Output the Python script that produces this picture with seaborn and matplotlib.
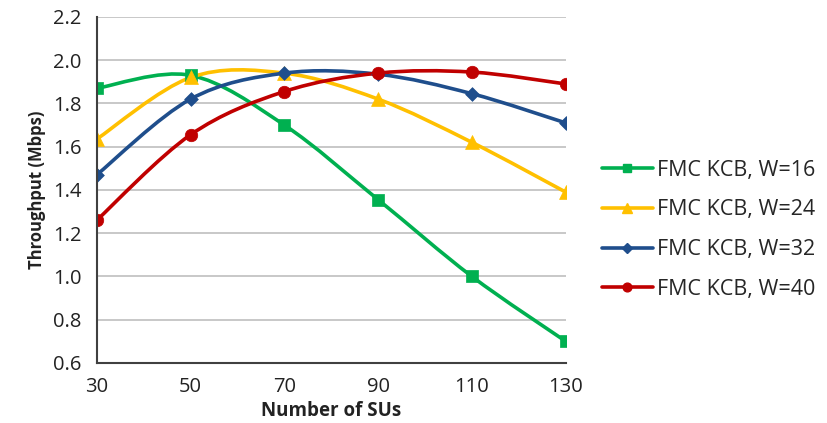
import numpy as np
import pandas as pd
import matplotlib
matplotlib.use("Agg")
import matplotlib.pyplot as plt
import seaborn as sns
from matplotlib.path import Path
from matplotlib.patches import PathPatch
from matplotlib.lines import Line2D

# data
num_sus = [30, 50, 70, 90, 110, 130]
w16 = [1.87, 1.93, 1.70, 1.355, 1.00, 0.70]
w24 = [1.635, 1.92, 1.94, 1.82, 1.62, 1.39]
w32 = [1.47, 1.82, 1.94, 1.935, 1.845, 1.71]
w40 = [1.26, 1.655, 1.855, 1.94, 1.945, 1.89]
labels = ["FMC KCB, W=16", "FMC KCB, W=24", "FMC KCB, W=32", "FMC KCB, W=40"]
colors = ["#00B050", "#FFC000", "#1F4E8C", "#C00000"]
markers = ["s", "^", "D", "o"]
msizes = [9, 10, 7, 9]

rows = []
for lab, vals in zip(labels, [w16, w24, w32, w40]):
    for x, y in zip(num_sus, vals):
        rows.append({"SUs": x, "Throughput": y, "series": lab})
df = pd.DataFrame(rows)

sns.set_style("white")
plt.rcParams['font.family'] = ['Open Sans', 'DejaVu Sans']

fig = plt.figure(figsize=(8.27, 4.23), dpi=100)
ax = fig.add_axes([0.117, 0.142, 0.567, 0.818])


def smooth_path(xs, ys):
    # Excel-style smoothed line: cubic Bezier segments through the points
    pts = np.column_stack([xs, ys]).astype(float)
    verts = [pts[0]]
    codes = [Path.MOVETO]
    n = len(pts)
    for i in range(n - 1):
        p0 = pts[i - 1] if i > 0 else pts[i]
        p1 = pts[i]
        p2 = pts[i + 1]
        p3 = pts[i + 2] if i + 2 < n else pts[i + 1]
        c1 = p1 + (p2 - p0) / 6.0
        c2 = p2 - (p3 - p1) / 6.0
        verts += [c1, c2, p2]
        codes += [Path.CURVE4] * 3
    return Path(verts, codes)


for lab, col in zip(labels, colors):
    sub = df[df["series"] == lab]
    patch = PathPatch(smooth_path(sub["SUs"], sub["Throughput"]), facecolor="none",
                      edgecolor=col, lw=2.6, zorder=3, capstyle="round")
    ax.add_patch(patch)

for lab, col, mk, ms in zip(labels, colors, markers, msizes):
    sub = df[df["series"] == lab]
    sns.scatterplot(x=sub["SUs"], y=sub["Throughput"], marker=mk, color=col,
                    s=ms ** 2, edgecolor=col, linewidth=0.5, ax=ax, zorder=4, legend=False)

ax.set_xlim(30, 130)
ax.set_ylim(0.6, 2.2)
ax.set_xticks(num_sus)
ax.set_yticks(np.arange(0.6, 2.21, 0.2))
ax.set_yticklabels([f"{v:.1f}" for v in np.arange(0.6, 2.21, 0.2)])
ax.yaxis.grid(True, color="#BFBFBF", lw=1.2)
ax.set_axisbelow(True)
for s in ["top", "right"]:
    ax.spines[s].set_visible(False)
for s in ["left", "bottom"]:
    ax.spines[s].set_color("#404040")
    ax.spines[s].set_linewidth(1.5)
ax.spines["left"].set_zorder(5)
ax.tick_params(axis="both", which="major", labelsize=14.5, colors="#404040",
               labelcolor="#222222", direction="out", length=5, width=1.2)
ax.tick_params(axis="y", length=5, pad=6)
ax.tick_params(axis="x", pad=5)
ax.set_xlabel("Number of SUs", fontsize=13.5, fontweight="bold", color="#222222", labelpad=3)
ax.set_ylabel("Throughput (Mbps)", fontsize=12, fontweight="bold", color="#222222", labelpad=5)

handles = [Line2D([0], [0], color=c, lw=2.6, marker=m, markersize=ms * 0.7)
           for c, m, ms in zip(colors, markers, msizes)]
ax.legend(handles, labels, loc="center left", bbox_to_anchor=(1.036, 0.385), frameon=False,
          fontsize=15.5, handlelength=2.35, labelspacing=0.87, handletextpad=0.2)

fig.savefig("out.png", dpi=100)
